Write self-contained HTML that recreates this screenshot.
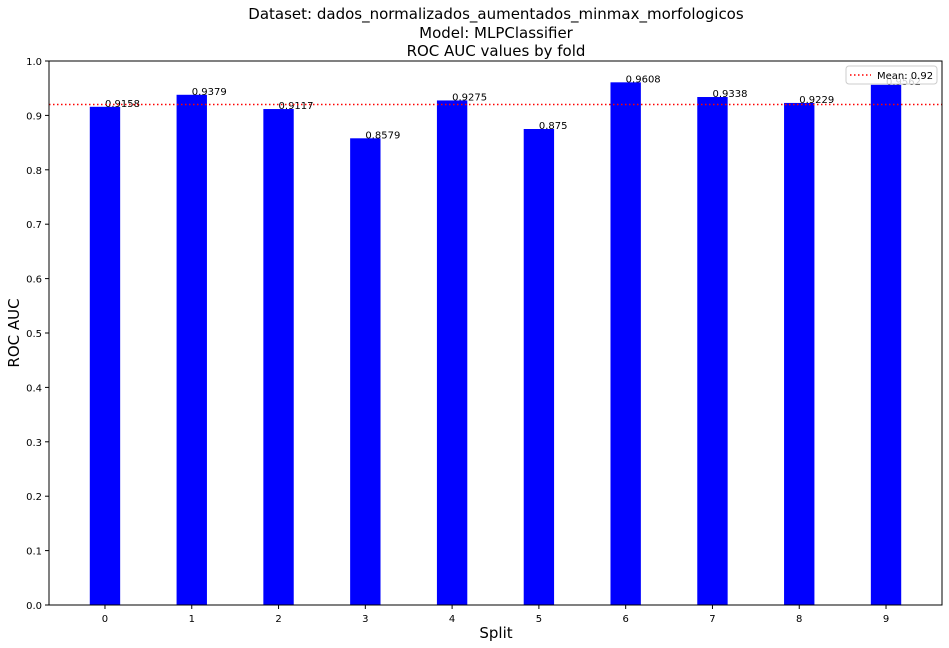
<!DOCTYPE html>
<html><head><meta charset="utf-8"><style>
body{margin:0;background:#fff;}
svg{display:block;font-family:"DejaVu Sans","Liberation Sans",sans-serif;}
</style></head><body>
<svg id="chart" width="949" height="648">
<text x="496" y="19" font-size="15" text-anchor="middle">Dataset: dados_normalizados_aumentados_minmax_morfologicos</text>
<text x="496" y="38" font-size="15" text-anchor="middle">Model: MLPClassifier</text>
<text x="496" y="56" font-size="15" text-anchor="middle">ROC AUC values by fold</text>
<text x="496" y="638" font-size="15" text-anchor="middle">Split</text>
<text transform="translate(19,333) rotate(-90)" font-size="15" text-anchor="middle">ROC AUC</text>
<g id="marks"></g>
<rect x="49" y="61" width="893" height="544" fill="none" stroke="#000" stroke-width="1"/>
</svg>
<script>
const categories=[0,1,2,3,4,5,6,7,8,9];
const values=[0.9158,0.9379,0.9117,0.8579,0.9275,0.875,0.9608,0.9338,0.9229,0.9562];
const labels=["0.9158","0.9379","0.9117","0.8579","0.9275","0.875","0.9608","0.9338","0.9229","0.9562"];
const yTicks=[0,0.1,0.2,0.3,0.4,0.5,0.6,0.7,0.8,0.9,1.0];
const meanLabel="Mean: 0.92";
const L=49,R=942,T=61,B=605,xmin=-0.645,xmax=9.645;
const xs=v=>L+(v-xmin)/(xmax-xmin)*(R-L);
const ys=v=>B-v*(B-T);
const ns="http://www.w3.org/2000/svg";
const g=document.getElementById('marks');
function mk(t,a){const e=document.createElementNS(ns,t);for(const k in a)e.setAttribute(k,a[k]);g.appendChild(e);return e;}
const bw=0.35*(R-L)/(xmax-xmin);
categories.forEach((c,i)=>{
 const r=mk('rect',{x:xs(c)-bw/2,y:ys(values[i]),width:bw,height:B-ys(values[i]),fill:'#0000ff'});
 
 
 const t=mk('text',{x:xs(c),y:ys(values[i]),'font-size':10});t.textContent=labels[i];
 
 
 const tk=mk('line',{x1:xs(c),x2:xs(c),y1:B,y2:B+4,stroke:'#000'});
 
 
 const tl=mk('text',{x:xs(c),y:B+17,'font-size':10,'text-anchor':'middle'});tl.textContent=c;
 
 
});
yTicks.forEach(v=>{
 const tk=mk('line',{x1:L-4,x2:L,y1:ys(v),y2:ys(v),stroke:'#000'});
 
 
 const tl=mk('text',{x:L-7,y:ys(v)+4,'font-size':10,'text-anchor':'end'});tl.textContent=v.toFixed(1);
 
 
});
const mean=values.reduce((a,b)=>a+b,0)/values.length;
const ml=mk('line',{x1:L,x2:R,y1:ys(mean),y2:ys(mean),stroke:'#ff0000','stroke-width':1.5,'stroke-dasharray':'1.5,2.5'});


const lb=mk('rect',{x:846,y:66,width:91,height:18,rx:3,fill:'#fff','fill-opacity':0.8,stroke:'#ccc'});


const ll=mk('line',{x1:850,x2:871,y1:75,y2:75,stroke:'#ff0000','stroke-width':1.5,'stroke-dasharray':'1.5,2.5'});


const lt=mk('text',{x:877,y:79,'font-size':10});lt.textContent=meanLabel;


</script>
</body></html>
